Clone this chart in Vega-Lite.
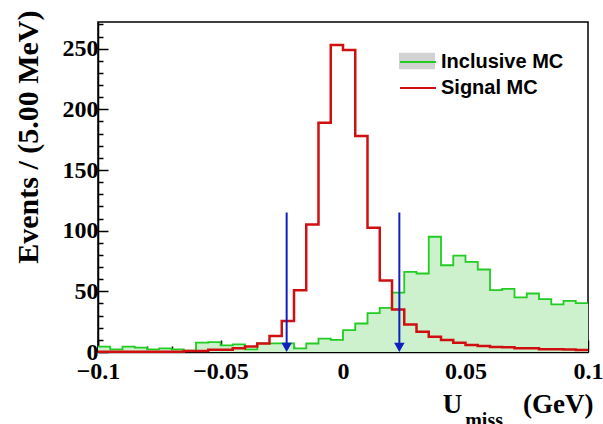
{
  "$schema": "https://vega.github.io/schema/vega-lite/v6.json",
  "width": 490,
  "height": 330,
  "autosize": {"type": "none"},
  "padding": {"left": 98, "top": 22, "right": 15, "bottom": 72},
  "background": "white",
  "config": {
    "view": {"stroke": "black", "strokeWidth": 1.5},
    "font": "Liberation Serif"
  },
  "title": {
    "text": "miss",
    "orient": "bottom",
    "anchor": "end",
    "font": "Liberation Serif",
    "fontWeight": "bold",
    "fontSize": 20,
    "color": "black",
    "dx": -100,
    "dy": -27,
    "offset": 21
  },
  "datasets": {
    "hist": [
      {"series": "Inclusive MC", "x": -0.1, "n": 4.4},
      {"series": "Inclusive MC", "x": -0.095, "n": 2.2},
      {"series": "Inclusive MC", "x": -0.09, "n": 4.4},
      {"series": "Inclusive MC", "x": -0.085, "n": 3.6},
      {"series": "Inclusive MC", "x": -0.08, "n": 2.2},
      {"series": "Inclusive MC", "x": -0.075, "n": 3.0},
      {"series": "Inclusive MC", "x": -0.07, "n": 2.2},
      {"series": "Inclusive MC", "x": -0.065, "n": 1.1},
      {"series": "Inclusive MC", "x": -0.06, "n": 7.7},
      {"series": "Inclusive MC", "x": -0.055, "n": 8.2},
      {"series": "Inclusive MC", "x": -0.05, "n": 5.5},
      {"series": "Inclusive MC", "x": -0.045, "n": 6.3},
      {"series": "Inclusive MC", "x": -0.04, "n": 2.2},
      {"series": "Inclusive MC", "x": -0.035, "n": 7.1},
      {"series": "Inclusive MC", "x": -0.03, "n": 7.1},
      {"series": "Inclusive MC", "x": -0.025, "n": 7.1},
      {"series": "Inclusive MC", "x": -0.02, "n": 3.0},
      {"series": "Inclusive MC", "x": -0.015, "n": 7.0},
      {"series": "Inclusive MC", "x": -0.01, "n": 11},
      {"series": "Inclusive MC", "x": -0.005, "n": 10},
      {"series": "Inclusive MC", "x": 0, "n": 18},
      {"series": "Inclusive MC", "x": 0.005, "n": 23.5},
      {"series": "Inclusive MC", "x": 0.01, "n": 32},
      {"series": "Inclusive MC", "x": 0.015, "n": 36.3},
      {"series": "Inclusive MC", "x": 0.02, "n": 49},
      {"series": "Inclusive MC", "x": 0.025, "n": 66},
      {"series": "Inclusive MC", "x": 0.03, "n": 64.7},
      {"series": "Inclusive MC", "x": 0.035, "n": 95},
      {"series": "Inclusive MC", "x": 0.04, "n": 71.5},
      {"series": "Inclusive MC", "x": 0.045, "n": 79.5},
      {"series": "Inclusive MC", "x": 0.05, "n": 74.3},
      {"series": "Inclusive MC", "x": 0.055, "n": 68},
      {"series": "Inclusive MC", "x": 0.06, "n": 51},
      {"series": "Inclusive MC", "x": 0.065, "n": 52},
      {"series": "Inclusive MC", "x": 0.07, "n": 45},
      {"series": "Inclusive MC", "x": 0.075, "n": 48.2},
      {"series": "Inclusive MC", "x": 0.08, "n": 43.6},
      {"series": "Inclusive MC", "x": 0.085, "n": 39.2},
      {"series": "Inclusive MC", "x": 0.09, "n": 42.2},
      {"series": "Inclusive MC", "x": 0.095, "n": 40.3},
      {"series": "Inclusive MC", "x": 0.1, "n": 40.3},
      {"series": "Signal MC", "x": -0.1, "n": 0.3},
      {"series": "Signal MC", "x": -0.095, "n": 0.3},
      {"series": "Signal MC", "x": -0.09, "n": 0.3},
      {"series": "Signal MC", "x": -0.085, "n": 0.3},
      {"series": "Signal MC", "x": -0.08, "n": 0.3},
      {"series": "Signal MC", "x": -0.075, "n": 0.3},
      {"series": "Signal MC", "x": -0.07, "n": 0.3},
      {"series": "Signal MC", "x": -0.065, "n": 0.8},
      {"series": "Signal MC", "x": -0.06, "n": 0.8},
      {"series": "Signal MC", "x": -0.055, "n": 1.8},
      {"series": "Signal MC", "x": -0.05, "n": 1.8},
      {"series": "Signal MC", "x": -0.045, "n": 3.0},
      {"series": "Signal MC", "x": -0.04, "n": 4.6},
      {"series": "Signal MC", "x": -0.035, "n": 7.1},
      {"series": "Signal MC", "x": -0.03, "n": 13.2},
      {"series": "Signal MC", "x": -0.025, "n": 25.5},
      {"series": "Signal MC", "x": -0.02, "n": 51},
      {"series": "Signal MC", "x": -0.015, "n": 105},
      {"series": "Signal MC", "x": -0.01, "n": 189},
      {"series": "Signal MC", "x": -0.005, "n": 253},
      {"series": "Signal MC", "x": 0, "n": 249},
      {"series": "Signal MC", "x": 0.005, "n": 178},
      {"series": "Signal MC", "x": 0.01, "n": 102.5},
      {"series": "Signal MC", "x": 0.015, "n": 59},
      {"series": "Signal MC", "x": 0.02, "n": 35},
      {"series": "Signal MC", "x": 0.025, "n": 22.7},
      {"series": "Signal MC", "x": 0.03, "n": 16.7},
      {"series": "Signal MC", "x": 0.035, "n": 12.6},
      {"series": "Signal MC", "x": 0.04, "n": 9.9},
      {"series": "Signal MC", "x": 0.045, "n": 7.7},
      {"series": "Signal MC", "x": 0.05, "n": 5.8},
      {"series": "Signal MC", "x": 0.055, "n": 4.9},
      {"series": "Signal MC", "x": 0.06, "n": 4.1},
      {"series": "Signal MC", "x": 0.065, "n": 4.0},
      {"series": "Signal MC", "x": 0.07, "n": 3.0},
      {"series": "Signal MC", "x": 0.075, "n": 3.0},
      {"series": "Signal MC", "x": 0.08, "n": 2.2},
      {"series": "Signal MC", "x": 0.085, "n": 2.2},
      {"series": "Signal MC", "x": 0.09, "n": 2.0},
      {"series": "Signal MC", "x": 0.095, "n": 1.6},
      {"series": "Signal MC", "x": 0.1, "n": 1.6}
    ],
    "arrows": [
      {"x": -0.023, "top": 115, "bottom": 5, "head": 3.8},
      {"x": 0.023, "top": 115, "bottom": 5, "head": 3.8}
    ]
  },
  "encoding": {
    "x": {
      "field": "x",
      "type": "quantitative",
      "scale": {"domain": [-0.1, 0.1], "nice": false, "zero": false},
      "axis": {
        "values": [-0.1, -0.09, -0.08, -0.07, -0.06, -0.05, -0.04, -0.03, -0.02, -0.01, 0, 0.01, 0.02, 0.03, 0.04, 0.05, 0.06, 0.07, 0.08, 0.09, 0.1],
        "format": "~g",
        "labelExpr": "abs(round(datum.value*100)) % 5 === 0 ? datum.label : ''",
        "tickSize": {"condition": {"test": "abs(round(datum.value*100)) % 5 === 0", "value": -12}, "value": -6},
        "tickColor": "black",
        "tickWidth": 1.5,
        "grid": false,
        "domainColor": "black",
        "domainWidth": 1.5,
        "labelFont": "Liberation Serif",
        "labelFontWeight": "bold",
        "labelFontSize": 24,
        "labelColor": "black",
        "labelPadding": 19,
        "labelOverlap": false,
        "labelFlush": false,
        "labelBound": false,
        "title": "U\u00a0\u00a0\u00a0\u00a0\u00a0\u00a0\u00a0\u00a0\u00a0(GeV)",
        "titleFont": "Liberation Serif",
        "titleFontWeight": "bold",
        "titleFontSize": 27,
        "titleColor": "black",
        "titleAnchor": "end",
        "titleAlign": "right",
        "titleBaseline": "alphabetic",
        "titleX": 495,
        "titleY": 60
      }
    },
    "y": {
      "field": "n",
      "type": "quantitative",
      "scale": {"domain": [0, 272], "nice": false},
      "axis": {
        "values": [0, 10, 20, 30, 40, 50, 60, 70, 80, 90, 100, 110, 120, 130, 140, 150, 160, 170, 180, 190, 200, 210, 220, 230, 240, 250, 260, 270],
        "labelExpr": "datum.value % 50 === 0 ? datum.label : ''",
        "tickSize": {"condition": {"test": "datum.value % 50 === 0", "value": -10}, "value": -5},
        "tickColor": "black",
        "tickWidth": 1.5,
        "grid": false,
        "domainColor": "black",
        "domainWidth": 1.5,
        "labelFont": "Liberation Serif",
        "labelFontWeight": "bold",
        "labelFontSize": 24,
        "labelColor": "black",
        "labelPadding": 10,
        "labelOverlap": false,
        "labelFlush": false,
        "labelBound": false,
        "title": "Events / (5.00 MeV)",
        "titleFont": "Liberation Serif",
        "titleFontWeight": "bold",
        "titleFontSize": 30,
        "titleColor": "black",
        "titleAnchor": "end",
        "titleAlign": "right",
        "titleBaseline": "alphabetic",
        "titleAngle": -90,
        "titleX": -61,
        "titleY": -12
      }
    }
  },
  "layer": [
    {
      "data": {"name": "hist"},
      "transform": [{"filter": "datum.series === 'Inclusive MC'"}],
      "mark": {"type": "area", "interpolate": "step-after", "opacity": 1},
      "encoding": {
        "fill": {
          "field": "series",
          "type": "nominal",
          "scale": {"domain": ["Inclusive MC"], "range": ["#d2d2d2"]},
          "legend": {
            "title": null,
            "orient": "none",
            "legendX": 304,
            "legendY": 24,
            "symbolType": "M-1.2,-0.55H1.2V0.55H-1.2Z",
            "symbolSize": 900,
            "symbolStrokeWidth": 0,
            "symbolOpacity": 1,
            "rowPadding": 0,
            "labelOffset": 7,
            "labelFont": "Liberation Sans",
            "labelFontWeight": "bold",
            "labelFontSize": 20,
            "labelExpr": "''"
          }
        }
      }
    },
    {
      "data": {"name": "hist"},
      "transform": [{"filter": "datum.series === 'Inclusive MC'"}],
      "mark": {"type": "area", "interpolate": "step-after", "color": "#cdf0cd", "opacity": 1}
    },
    {
      "data": {"name": "hist"},
      "transform": [{"filter": "datum.series === 'Inclusive MC'"}],
      "mark": {"type": "line", "interpolate": "step-after", "strokeWidth": 1.8},
      "encoding": {
        "stroke": {
          "field": "series",
          "type": "nominal",
          "scale": {"domain": ["Inclusive MC", "Signal MC"], "range": ["#22cc22", "#d01010"]},
          "legend": {
            "title": null,
            "orient": "none",
            "legendX": 304,
            "legendY": 24,
            "symbolType": "M-1.2,0H1.2",
            "symbolSize": 900,
            "symbolStrokeWidth": 2,
            "symbolOpacity": 1,
            "rowPadding": 0,
            "labelOffset": 7,
            "labelFont": "Liberation Sans",
            "labelFontWeight": "bold",
            "labelFontSize": 20,
            "labelColor": "black"
          }
        }
      }
    },
    {
      "data": {"name": "hist"},
      "transform": [{"filter": "datum.series === 'Signal MC'"}],
      "mark": {"type": "line", "interpolate": "step-after", "strokeWidth": 2.5},
      "encoding": {
        "stroke": {"field": "series", "type": "nominal"}
      }
    },
    {
      "data": {"name": "arrows"},
      "mark": {"type": "rule", "color": "#1020c0", "strokeWidth": 2},
      "encoding": {
        "x": {"field": "x", "type": "quantitative"},
        "y": {"field": "top", "type": "quantitative"},
        "y2": {"field": "bottom"}
      }
    },
    {
      "data": {"name": "arrows"},
      "mark": {"type": "point", "shape": "triangle-down", "filled": true, "color": "#1020c0", "size": 110, "opacity": 1},
      "encoding": {
        "x": {"field": "x", "type": "quantitative"},
        "y": {"field": "head", "type": "quantitative"}
      }
    }
  ]
}
